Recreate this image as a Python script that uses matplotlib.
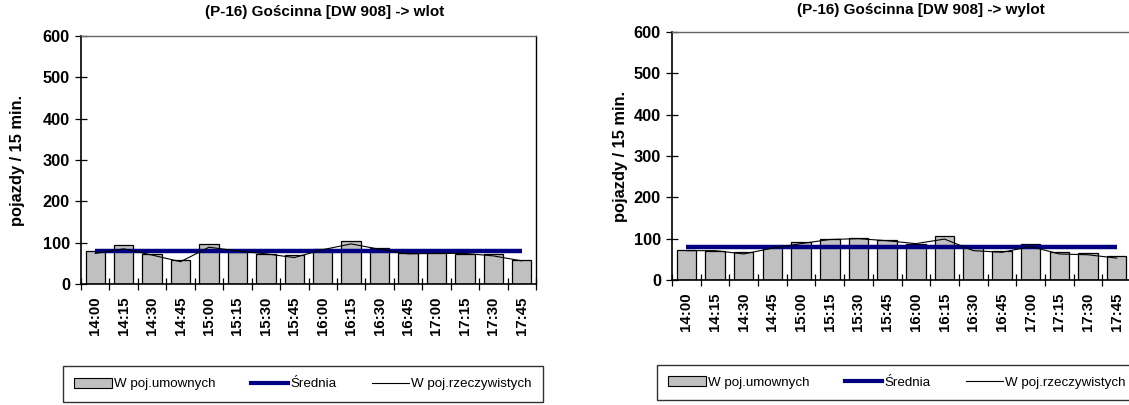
import matplotlib
matplotlib.use("Agg")
import matplotlib.pyplot as plt
import numpy as np
from matplotlib.patches import Patch
from matplotlib.lines import Line2D

plt.rcParams['font.family'] = ['Liberation Sans', 'DejaVu Sans']

times = ["14:00", "14:15", "14:30", "14:45", "15:00", "15:15", "15:30", "15:45",
         "16:00", "16:15", "16:30", "16:45", "17:00", "17:15", "17:30", "17:45"]

# wlot (inbound)
wlot_umowne = [80, 94, 73, 58, 96, 77, 73, 70, 84, 103, 86, 74, 75, 73, 72, 57]
wlot_rzecz = [74, 85, 70, 54, 89, 80, 73, 64, 83, 97, 84, 73, 74, 74, 68, 56]
wlot_srednia = 79

# wylot (outbound)
wylot_umowne = [73, 71, 67, 79, 92, 99, 102, 97, 87, 106, 79, 69, 87, 67, 65, 57]
wylot_rzecz = [71, 71, 63, 77, 88, 98, 100, 95, 88, 99, 71, 67, 81, 63, 61, 53]
wylot_srednia = 81

titles = ["(P-16) Gościnna [DW 908] -> wlot", "(P-16) Gościnna [DW 908] -> wylot"]
ylabel = "pojazdy / 15 min."
legend_labels = ["W poj.umownych", "Średnia", "W poj.rzeczywistych"]

W, H = 1129, 405
fig = plt.figure(figsize=(W / 100, H / 100), dpi=100)


def px_axes(x0, y0, x1, y1):
    return fig.add_axes([x0 / W, 1 - y1 / H, (x1 - x0) / W, (y1 - y0) / H])


panels = [
    dict(box=(81, 36, 536, 284), umowne=wlot_umowne, rzecz=wlot_rzecz, sr=wlot_srednia,
         title=titles[0], tx=325, ty=12, yx=18, right=True, leg=(63, 365, 543, 403)),
    dict(box=(672, 32, 1131, 280), umowne=wylot_umowne, rzecz=wylot_rzecz, sr=wylot_srednia,
         title=titles[1], tx=921, ty=10, yx=620, right=False, leg=(657, 363, 1137, 402)),
]

x = np.arange(len(times))
for p in panels:
    ax = px_axes(*p['box'])
    ax.bar(x, p['umowne'], width=0.68, color='#C0C0C0', edgecolor='black', linewidth=0.9, zorder=2)
    ax.plot([x[0], x[-1]], [p['sr'], p['sr']], color='#000080', linewidth=3.2, zorder=3,
            solid_capstyle='butt')
    ax.plot(x, p['rzecz'], color='black', linewidth=0.8, zorder=4)

    ax.set_xlim(-0.5, len(times) - 0.5)
    ax.set_ylim(0, 600)
    ax.set_yticks(np.arange(0, 601, 100))
    ax.set_xticks(x)
    ax.set_xticklabels(times, rotation=90, fontsize=10.8, fontweight='bold')
    ax.set_xticks(np.arange(-0.5, len(times)), minor=True)
    ax.tick_params(axis='x', which='major', length=0, pad=9)
    ax.tick_params(axis='x', which='minor', direction='inout', length=8, width=0.9)
    ax.tick_params(axis='y', direction='inout', length=8, width=0.9, pad=4)
    for lab in ax.get_yticklabels():
        lab.set_fontsize(11.8)
        lab.set_fontweight('bold')

    ax.spines['left'].set_color('black')
    ax.spines['bottom'].set_color('black')
    ax.spines['left'].set_linewidth(1.2)
    ax.spines['bottom'].set_linewidth(1.2)
    ax.spines['top'].set_color('#666666')
    ax.spines['top'].set_linewidth(1.0)
    if p['right']:
        ax.spines['right'].set_color('black')
        ax.spines['right'].set_linewidth(1.0)
    else:
        ax.spines['right'].set_visible(False)

    fig.text(p['tx'] / W, 1 - p['ty'] / H, p['title'], ha='center', va='center',
             fontsize=11, fontweight='bold')
    fig.text(p['yx'] / W, 1 - ((p['box'][1] + p['box'][3]) / 2) / H, ylabel,
             rotation=90, ha='center', va='center', fontsize=11.8, fontweight='bold')

    handles = [Patch(facecolor='#C0C0C0', edgecolor='black', linewidth=0.8),
               Line2D([], [], color='#000080', linewidth=3),
               Line2D([], [], color='black', linewidth=0.8)]
    lx0, ly0, lx1, ly1 = p['leg']
    leg = fig.legend(handles, legend_labels, ncol=3, loc='center', mode='expand',
                     bbox_to_anchor=(lx0 / W, 1 - ly1 / H, (lx1 - lx0) / W, (ly1 - ly0) / H),
                     fontsize=9.6, frameon=True, fancybox=False, borderpad=0.85,
                     handlelength=2.8, handleheight=0.8, handletextpad=0.15,
                     borderaxespad=0)
    leg.get_frame().set_edgecolor('black')
    leg.get_frame().set_linewidth(1.0)

fig.savefig("out.png", dpi=100)
